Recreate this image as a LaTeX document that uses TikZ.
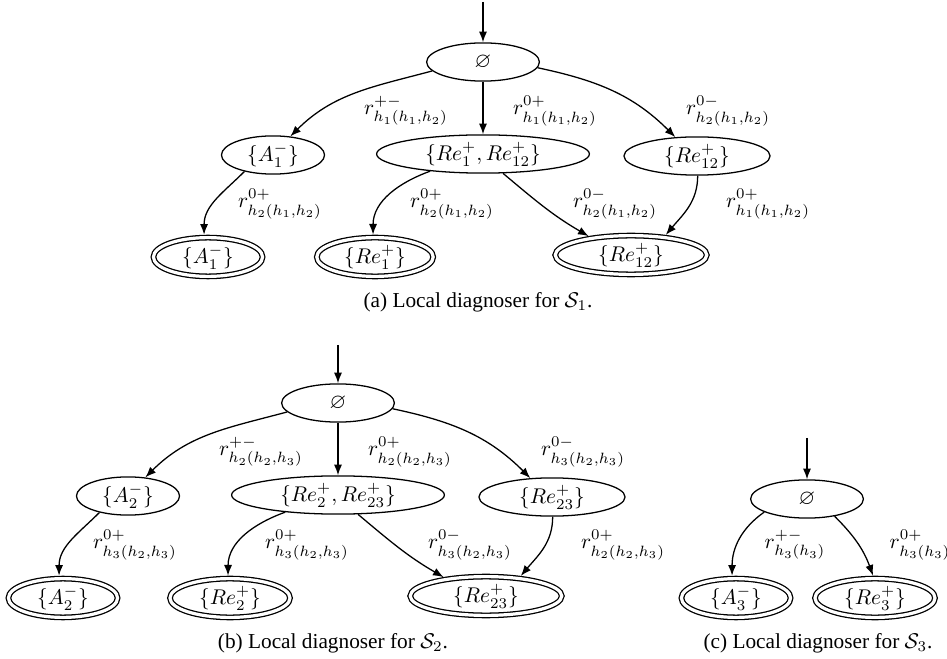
\documentclass[tikz,border=0pt]{standalone}
\usepackage{amsmath}
\usepackage{amssymb}
\usepackage[no-math]{fontspec}
\setmainfont{Liberation Serif}
\usetikzlibrary{shapes.geometric,arrows.meta}

\begin{document}
\begin{tikzpicture}[x=0.0165cm,y=-0.0165cm,line width=0.6pt]
\tikzstyle{state}=[draw,ellipse,inner sep=0pt,minimum height=0.63cm]
\tikzstyle{final}=[state,double,double distance=1.5pt,outer sep=1.4pt,minimum height=0.64cm]
\tikzstyle{lbl}=[inner sep=0pt]
\tikzstyle{edge}=[-{Latex[length=5pt,width=3.8pt]}]
\tikzstyle{caption}=[lbl,font=\rmfamily]

\useasboundingbox (0,0) rectangle (947,659);

% (a) diagnoser for S1
\node (root1) [state,minimum width=1.86cm] at (483,62) {$\varnothing$};
\node (A1) [state,minimum width=1.70cm] at (273,155) {$\{A_1^-\}$};
\node (R1) [state,minimum width=3.51cm] at (483,154) {$\{Re_1^+, Re_{12}^+\}$};
\node (R12) [state,minimum width=2.41cm] at (697,156) {$\{Re_{12}^+\}$};
\node (A1f) [final,minimum width=1.80cm] at (208,257) {$\{A_1^-\}$};
\node (R1f) [final,minimum width=1.92cm] at (375,257) {$\{Re_1^+\}$};
\node (R12f) [final,minimum width=2.50cm] at (631,255) {$\{Re_{12}^+\}$};

\coordinate (in1) at (483,2);
\draw [edge] (in1) -- (root1);
\draw [edge] (root1.190) to[out=195,in=45] (A1.47);
\draw [edge] (root1) -- (R1);
\draw [edge] (root1.-6) to[out=-12,in=135] (R12.139);
\draw [edge] (A1.210) to[out=225,in=90] (A1f.100);
\draw [edge] (R1.198) to[out=200,in=90] (R1f.95);
\draw [edge] (R1.-44) to[out=-40,in=150] (R12f.156);
\draw [edge] (R12.-88) to[out=-90,in=50] (R12f.30);

\node (l1) [lbl] at (406,111) {$r^{+-}_{h_1(h_1,h_2)}$};
\node (l2) [lbl] at (555,111) {$r^{0+}_{h_1(h_1,h_2)}$};
\node (l3) [lbl] at (728,111) {$r^{0-}_{h_2(h_1,h_2)}$};
\node (l4) [lbl] at (280,204) {$r^{0+}_{h_2(h_1,h_2)}$};
\node (l5) [lbl] at (452,204) {$r^{0+}_{h_2(h_1,h_2)}$};
\node (l6) [lbl] at (615,204) {$r^{0-}_{h_2(h_1,h_2)}$};
\node (l7) [lbl] at (768,204) {$r^{0+}_{h_1(h_1,h_2)}$};

% (b) diagnoser for S2
\begin{scope}[shift={(-145,341)}]
\node (root2) [state,minimum width=1.86cm] at (483,62) {$\varnothing$};
\node (A2) [state,minimum width=1.70cm] at (273,155) {$\{A_2^-\}$};
\node (R2) [state,minimum width=3.51cm] at (483,154) {$\{Re_2^+, Re_{23}^+\}$};
\node (R23) [state,minimum width=2.41cm] at (697,156) {$\{Re_{23}^+\}$};
\node (A2f) [final,minimum width=1.80cm] at (208,257) {$\{A_2^-\}$};
\node (R2f) [final,minimum width=1.98cm] at (375,257) {$\{Re_2^+\}$};
\node (R23f) [final,minimum width=2.50cm] at (631,255) {$\{Re_{23}^+\}$};

\coordinate (in2) at (483,4);
\draw [edge] (in2) -- (root2);
\draw [edge] (root2.190) to[out=195,in=45] (A2.47);
\draw [edge] (root2) -- (R2);
\draw [edge] (root2.-6) to[out=-12,in=135] (R23.139);
\draw [edge] (A2.210) to[out=225,in=90] (A2f.100);
\draw [edge] (R2.198) to[out=200,in=90] (R2f.95);
\draw [edge] (R2.-44) to[out=-40,in=150] (R23f.156);
\draw [edge] (R23.-88) to[out=-90,in=50] (R23f.30);

\node (m1) [lbl] at (406,111) {$r^{+-}_{h_2(h_2,h_3)}$};
\node (m2) [lbl] at (555,111) {$r^{0+}_{h_2(h_2,h_3)}$};
\node (m3) [lbl] at (728,111) {$r^{0-}_{h_3(h_2,h_3)}$};
\node (m4) [lbl] at (280,204) {$r^{0+}_{h_3(h_2,h_3)}$};
\node (m5) [lbl] at (452,204) {$r^{0+}_{h_3(h_2,h_3)}$};
\node (m6) [lbl] at (615,204) {$r^{0-}_{h_3(h_2,h_3)}$};
\node (m7) [lbl] at (768,204) {$r^{0+}_{h_2(h_2,h_3)}$};
\end{scope}

% (c) diagnoser for S3
\node (root3) [state,minimum width=1.86cm] at (807,499) {$\varnothing$};
\node (A3f) [final,minimum width=1.80cm] at (736,598) {$\{A_3^-\}$};
\node (R3f) [final,minimum width=1.98cm] at (875,598) {$\{Re_3^+\}$};

\coordinate (in3) at (807,438);
\draw [edge] (in3) -- (root3);
\draw [edge] (root3.197) to[out=215,in=90] (A3f.100);
\draw [edge] (root3.-32) to[out=-45,in=110] (R3f.95);

\node (n1) [lbl] at (795,545) {$r^{+-}_{h_3(h_3)}$};
\node (n2) [lbl] at (920,545) {$r^{0+}_{h_3(h_3)}$};

% captions
\node (capa) [caption] at (478,302) {(a) Local diagnoser for $\mathcal{S}_1$.};
\node (capb) [caption] at (333,643) {(b) Local diagnoser for $\mathcal{S}_2$.};
\node (capc) [caption] at (818,643) {(c) Local diagnoser for $\mathcal{S}_3$.};
\end{tikzpicture}
\end{document}
